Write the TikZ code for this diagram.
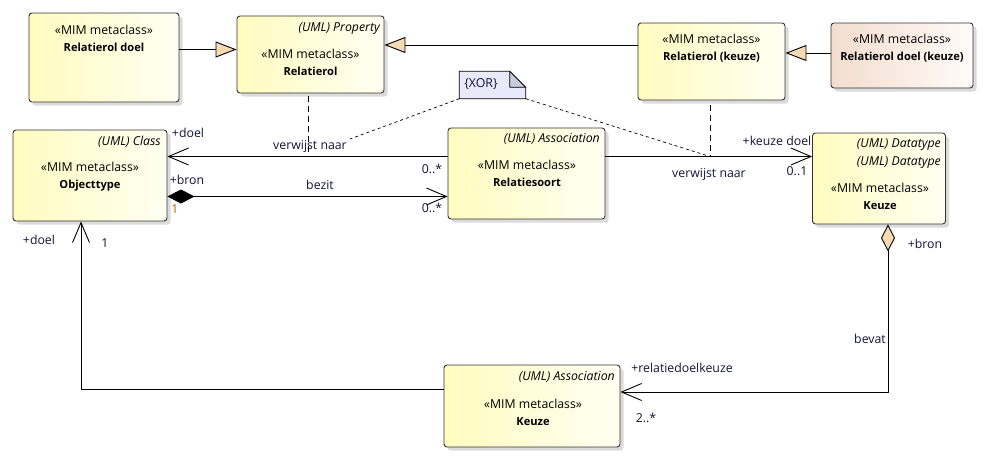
\documentclass[tikz,border=0pt]{standalone}
\usepackage{fontspec}
\setmainfont{Open Sans}
\usetikzlibrary{arrows.meta,shadows}

\definecolor{boxleft}{RGB}{255,251,192}
\definecolor{boxright}{RGB}{255,255,242}
\definecolor{peachleft}{RGB}{243,221,206}
\definecolor{peachright}{RGB}{255,251,249}
\definecolor{gentan}{RGB}{246,218,180}
\definecolor{notefill}{RGB}{232,234,252}
\definecolor{notefold}{RGB}{200,202,222}
\definecolor{lblblue}{RGB}{18,18,55}
\definecolor{multorange}{RGB}{185,100,0}
\newcommand\mimfont{\fontsize{12.3}{17}\selectfont}
\newcommand\mimname[1]{{\fontsize{11.1}{17}\selectfont\bfseries #1}}

\begin{document}
\begin{tikzpicture}[x=1pt, y=-1pt, line join=round,
    font=\mimfont,
    mimbox/.style={draw=black!80, line width=0.9pt, rounded corners=3pt,
        left color=boxleft, right color=boxright,
        drop shadow={shadow xshift=3.5pt, shadow yshift=-3.5pt, fill=black!14, opacity=1}},
    peachbox/.style={mimbox, left color=peachleft, right color=peachright},
    mimtxt/.style={align=center, inner sep=0pt},
    umltxt/.style={inner sep=0pt, anchor=mid east, font=\mimfont\itshape},
    lbl/.style={inner sep=0pt, anchor=mid, text=lblblue},
    conn/.style={line width=0.9pt},
    gen/.style={conn, -{Triangle[fill=gentan, length=21pt, width=16pt]}},
    assoc/.style={conn, -{Straight Barb[length=20pt, width=17pt]}},
    comp/.style={conn, {Diamond[length=27pt, width=14pt]}-{Straight Barb[length=20pt, width=17pt]}},
    agg/.style={conn, {Diamond[fill=gentan, length=27pt, width=14pt]}-{Straight Barb[length=20pt, width=17pt]}},
    clsdash/.style={line width=0.8pt, dash pattern=on 6pt off 4pt},
    xorline/.style={line width=0.7pt, dash pattern=on 3pt off 3pt}]
    \useasboundingbox (0,0) rectangle (990,463);

    % classes
    \node[mimbox, minimum width=150pt, minimum height=89pt] (rdoel) at (104,57.5) {};
    \node[mimbox, minimum width=147pt, minimum height=77pt] (rol) at (310.5,54.5) {};
    \node[mimbox, minimum width=147pt, minimum height=77pt] (rkeuze) at (711.5,61.5) {};
    \node[peachbox, minimum width=142pt, minimum height=65pt] (rdoelk) at (902,55.5) {};
    \node[mimbox, minimum width=154pt, minimum height=91pt] (obj) at (90,175.5) {};
    \node[mimbox, minimum width=157pt, minimum height=91pt] (rsoort) at (526.5,173.5) {};
    \node[mimbox, minimum width=133pt, minimum height=91pt] (kdt) at (879,178.5) {};
    \node[mimbox, minimum width=176pt, minimum height=82pt] (kassoc) at (532,406) {};

    \node[mimtxt] (rdoel-t) at (104,38.5) {«MIM metaclass»\\\mimname{Relatierol doel}};
    \node[umltxt] (rol-s) at (380,29) {(UML) Property};
    \node[mimtxt] (rol-t) at (310.5,62.5) {«MIM metaclass»\\\mimname{Relatierol}};
    \node[mimtxt] (rkeuze-t) at (711.5,48) {«MIM metaclass»\\\mimname{Relatierol (keuze)}};
    \node[mimtxt] (rdoelk-t) at (902,48) {«MIM metaclass»\\\mimname{Relatierol doel (keuze)}};
    \node[umltxt] (obj-s) at (161,143) {(UML) Class};
    \node[mimtxt] (obj-t) at (90,176.5) {«MIM metaclass»\\\mimname{Objecttype}};
    \node[umltxt] (rsoort-s) at (600,140) {(UML) Association};
    \node[mimtxt] (rsoort-t) at (527,173.5) {«MIM metaclass»\\\mimname{Relatiesoort}};
    \node[umltxt] (kdt-s1) at (941,145) {(UML) Datatype};
    \node[umltxt] (kdt-s2) at (941,163) {(UML) Datatype};
    \node[mimtxt] (kdt-t) at (880,196.5) {«MIM metaclass»\\\mimname{Keuze}};
    \node[umltxt] (kassoc-s) at (615,378) {(UML) Association};
    \node[mimtxt] (kassoc-t) at (533,412) {«MIM metaclass»\\\mimname{Keuze}};

    % XOR note
    \node[inner sep=0pt, minimum width=66pt, minimum height=27pt] (note) at (492.5,85) {};
    \draw[line width=0.8pt, fill=notefill] (note.south west) -- (note.north west)
        -- ([xshift=-16pt]note.north east) -- ([yshift=-16pt]note.north east)
        -- (note.south east) -- cycle;
    \draw[line width=0.8pt, fill=notefold] ([xshift=-16pt]note.north east)
        -- ([xshift=-16pt,yshift=-16pt]note.north east) -- ([yshift=-16pt]note.north east) -- cycle;
    \node[lbl] (xor) at (481,85) {\{XOR\}};

    % generalisations
    \coordinate (g1) at ([yshift=8pt]rdoel.east);
    \coordinate (g2) at ([yshift=16.5pt]rkeuze.west);
    \coordinate (g3) at ([yshift=2.5pt]rdoelk.west);
    \draw[gen] (g1) -- (g1 -| rol.west);
    \draw[gen] (g2) -- (g2 -| rol.east);
    \draw[gen] (g3) -- (g3 -| rkeuze.east);

    % associations
    \coordinate (a1) at ([yshift=17pt]rsoort.west);
    \coordinate (a2) at ([yshift=17pt]rsoort.east);
    \coordinate (a3) at ([yshift=-21pt]obj.east);
    \draw[assoc] (a1) -- (a1 -| obj.east);
    \draw[assoc] (a2) -- (a2 -| kdt.west);
    \draw[comp] (a3) -- (a3 -| rsoort.west);
    \coordinate (b1) at ([yshift=17pt]kassoc.west);
    \coordinate (b2) at ([xshift=9pt]kdt.south);
    \coordinate (b3) at ([yshift=14pt]kassoc.east);
    \draw[assoc] (b1) -| ([xshift=-9pt]obj.south);
    \draw[agg] (b2) |- (b3);

    % association classes and constraint
    \coordinate (vn1) at (308,156.5);
    \coordinate (vn2) at (710,156.5);
    \coordinate (xl) at (350,139);
    \draw[clsdash, shorten <=3pt] (vn1 |- rol.south) -- (vn1);
    \draw[clsdash, shorten <=5pt] (vn2 |- rkeuze.south) -- (vn2);
    \draw[xorline] (note.south west) -- (xl);
    \draw[xorline] (note.south east) -- (vn2);

    % roles and multiplicities
    \node[lbl] (l-doel1) at (188,135) {+doel};
    \node[lbl] (l-vn1) at (310,147) {verwijst naar};
    \node[lbl] (l-m1) at (432,171) {0..*};
    \node[lbl] (l-bron1) at (187,182) {+bron};
    \node[lbl, text=multorange] (l-m2) at (175,211) {1};
    \node[lbl] (l-bezit) at (320,187) {bezit};
    \node[lbl] (l-m3) at (432,210) {0..*};
    \node[lbl] (l-kdoel) at (777,143) {+keuze doel};
    \node[lbl] (l-m4) at (797,173) {0..1};
    \node[lbl] (l-vn2) at (709,175) {verwijst naar};
    \node[lbl] (l-doel2) at (39,242) {+doel};
    \node[lbl] (l-m5) at (105,245) {1};
    \node[lbl] (l-bron2) at (925,246) {+bron};
    \node[lbl] (l-bevat) at (870,341) {bevat};
    \node[lbl] (l-rdk) at (682,370) {+relatiedoelkeuze};
    \node[lbl] (l-m6) at (646,420) {2..*};
\end{tikzpicture}
\end{document}
